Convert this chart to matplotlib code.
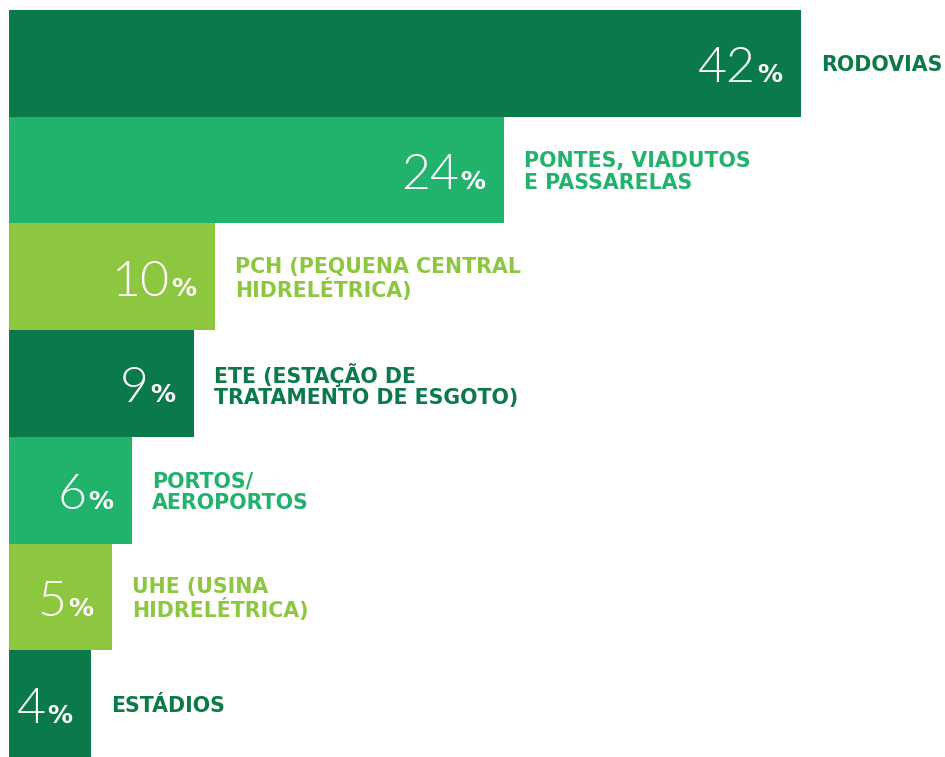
import os
import matplotlib
matplotlib.use("Agg")
import matplotlib.pyplot as plt
from matplotlib.font_manager import FontProperties

# Data
categories = [
    "RODOVIAS",
    "PONTES, VIADUTOS\nE PASSARELAS",
    "PCH (PEQUENA CENTRAL\nHIDRELÉTRICA)",
    "ETE (ESTAÇÃO DE\nTRATAMENTO DE ESGOTO)",
    "PORTOS/\nAEROPORTOS",
    "UHE (USINA\nHIDRELÉTRICA)",
    "ESTÁDIOS",
]
values = [42, 24, 10, 9, 6, 5, 4]                       # printed percentages
bar_lengths = [42, 26.25, 10.92, 9.81, 6.52, 5.46, 4.35]  # drawn bar lengths
colors = ["#0b7a4a", "#21b36b", "#8dc63f", "#0b7a4a", "#21b36b", "#8dc63f", "#0b7a4a"]

bold_path = os.path.join(matplotlib.get_data_path(), "fonts", "ttf", "DejaVuSans-Bold.ttf")
if os.path.exists(bold_path):
    fp_label = FontProperties(fname=bold_path, size=20.5)
    fp_pct = FontProperties(fname=bold_path, size=25)
else:
    fp_label = FontProperties(family="DejaVu Sans", weight="bold", stretch="normal", size=20.5)
    fp_pct = FontProperties(family="DejaVu Sans", weight="bold", stretch="normal", size=25)
fp_num = FontProperties(family="Lato", weight=300, size=50)

DPI = 72
fig = plt.figure(figsize=(945 / DPI, 757 / DPI), dpi=DPI)
fig.patch.set_facecolor("white")
ax = fig.add_axes([9 / 945, 0, 936 / 945, 747 / 757])
ax.set_xlim(0, 42 * 936 / 792)
ax.set_ylim(len(values) - 0.5, -0.5)
ax.axis("off")

y = list(range(len(values)))
ax.barh(y, bar_lengths, height=1.0, color=colors, edgecolor="none")

for i, (v, L, c, cat) in enumerate(zip(values, bar_lengths, colors, categories)):
    # percent sign
    ax.annotate("%", xy=(L, i), xytext=(-19, -19), textcoords="offset points",
                ha="right", va="baseline", color="white", fontproperties=fp_pct)
    # digits
    ax.annotate(str(v), xy=(L, i), xytext=(-45, -19), textcoords="offset points",
                ha="right", va="baseline", color="white", fontproperties=fp_num)
    # category label
    ax.annotate(cat, xy=(L, i), xytext=(20, -2), textcoords="offset points",
                ha="left", va="center", color=c, fontproperties=fp_label,
                linespacing=1.08)

fig.savefig("out.png", dpi=DPI, facecolor="white")
